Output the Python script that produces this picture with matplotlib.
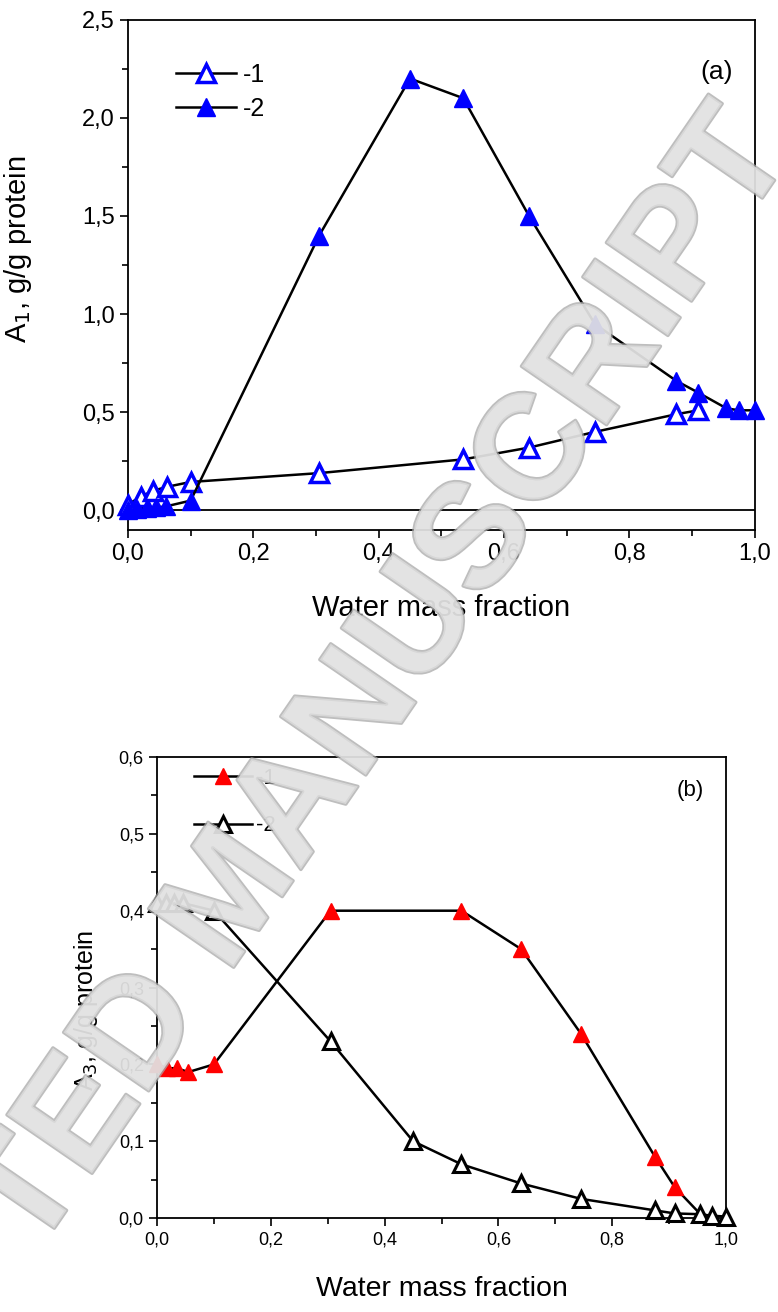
import numpy as np
import matplotlib.pyplot as plt
import matplotlib.patheffects as pe

plt.rcParams['font.family'] = ['Liberation Sans', 'DejaVu Sans']

# panel (a): A1 vs water mass fraction
xa1 = [0.0, 0.02, 0.04, 0.062, 0.10, 0.305, 0.535, 0.64, 0.745, 0.875, 0.91]
ya1 = [0.03, 0.07, 0.10, 0.12, 0.145, 0.19, 0.26, 0.32, 0.40, 0.49, 0.51]
xa2 = [0.0, 0.015, 0.03, 0.045, 0.06, 0.10, 0.305, 0.45, 0.535, 0.64, 0.745, 0.875, 0.91, 0.955, 0.975, 1.0]
ya2 = [0.0, 0.005, 0.01, 0.015, 0.02, 0.05, 1.40, 2.20, 2.10, 1.50, 0.95, 0.66, 0.60, 0.52, 0.51, 0.51]

# panel (b): A3 vs water mass fraction
xb1 = [0.0, 0.018, 0.035, 0.055, 0.10, 0.305, 0.535, 0.64, 0.745, 0.875, 0.91, 0.955]
yb1 = [0.20, 0.195, 0.195, 0.19, 0.20, 0.40, 0.40, 0.35, 0.24, 0.08, 0.04, 0.005]
xb2 = [0.0, 0.015, 0.03, 0.045, 0.10, 0.305, 0.45, 0.535, 0.64, 0.745, 0.875, 0.91, 0.955, 0.975, 1.0]
yb2 = [0.41, 0.41, 0.41, 0.41, 0.40, 0.23, 0.10, 0.07, 0.045, 0.025, 0.01, 0.006, 0.005, 0.003, 0.002]

xticks = [0.0, 0.2, 0.4, 0.6, 0.8, 1.0]
xtick_labels = ['0,0', '0,2', '0,4', '0,6', '0,8', '1,0']
ya_ticks = [0.0, 0.5, 1.0, 1.5, 2.0, 2.5]
ya_labels = ['0,0', '0,5', '1,0', '1,5', '2,0', '2,5']
yb_ticks = [0.0, 0.1, 0.2, 0.3, 0.4, 0.5, 0.6]
yb_labels = ['0,0', '0,1', '0,2', '0,3', '0,4', '0,5', '0,6']

fig = plt.figure(figsize=(7.78, 13.12), dpi=100)

def style(ax, fs):
    ax.tick_params(which='both', direction='out', top=False, right=False, width=1.2)
    ax.tick_params(which='major', length=6, labelsize=fs)
    ax.tick_params(which='minor', length=4)
    for s in ax.spines.values():
        s.set_linewidth(1.3)

# ---- (a)
ax1 = fig.add_axes([0.1645, 0.596, 0.8055, 0.389])
ax1.axhline(0, color='k', lw=1.3)
ax1.plot(xa1, ya1, color='k', lw=1.8, marker='^', ms=13, mfc='white', mec='#0000ff',
         mew=2.5, clip_on=False, label='-1', zorder=3)
ax1.plot(xa2, ya2, color='k', lw=1.8, marker='^', ms=13, mfc='#0000ff', mec='#0000ff',
         clip_on=False, label='-2', zorder=4)
ax1.set_xlim(0, 1)
ax1.set_ylim(-0.1, 2.5)
ax1.set_xticks(xticks)
ax1.set_xticklabels(xtick_labels)
ax1.set_xticks(np.arange(0.1, 1.0, 0.2), minor=True)
ax1.set_yticks(ya_ticks)
ax1.set_yticklabels(ya_labels)
ax1.set_yticks([0.25, 0.75, 1.25, 1.75, 2.25], minor=True)
style(ax1, 17)
ax1.set_xlabel('Water mass fraction', fontsize=21)
ax1.xaxis.set_label_coords(0.5, -0.125)
ax1.set_ylabel('A$_1$, g/g protein', fontsize=21)
ax1.yaxis.set_label_coords(-0.15, 0.55)
ax1.text(0.94, 0.898, '(a)', transform=ax1.transAxes, fontsize=19, ha='center', va='center',
         zorder=20)
ax1.legend(loc='upper left', bbox_to_anchor=(0.04, 0.96), frameon=False, fontsize=18,
           handlelength=2.4, handletextpad=0.3, labelspacing=0.4)

# ---- (b)
ax2 = fig.add_axes([0.2018, 0.0716, 0.7314, 0.3514])
ax2.plot(xb1, yb1, color='k', lw=1.8, marker='^', ms=12, mfc='#ff0000', mec='#ff0000',
         clip_on=False, label='-1', zorder=3)
ax2.plot(xb2, yb2, color='k', lw=1.8, marker='^', ms=12, mfc='white', mec='k',
         mew=2.2, clip_on=False, label='-2', zorder=4)
ax2.set_xlim(0, 1)
ax2.set_ylim(0, 0.6)
ax2.set_xticks(xticks)
ax2.set_xticklabels(xtick_labels)
ax2.set_xticks(np.arange(0.1, 1.0, 0.2), minor=True)
ax2.set_yticks(yb_ticks)
ax2.set_yticklabels(yb_labels)
ax2.set_yticks(np.arange(0.05, 0.6, 0.1), minor=True)
style(ax2, 13)
ax2.set_xlabel('Water mass fraction', fontsize=20.5)
ax2.xaxis.set_label_coords(0.5, -0.125)
ax2.set_ylabel('A$_3$, g/g protein', fontsize=18)
ax2.yaxis.set_label_coords(-0.1, 0.45)
ax2.text(0.937, 0.928, '(b)', transform=ax2.transAxes, fontsize=16, ha='center', va='center')
ax2.legend(loc='upper left', bbox_to_anchor=(0.03, 1.02), frameon=False, fontsize=16,
           handlelength=2.6, handletextpad=0.2, labelspacing=1.2)

# watermark
fig.text(0.30, 0.315, 'ACCEPTED MANUSCRIPT', fontsize=108, rotation=55.5, color='#e2e2e2',
         fontweight='bold', ha='center', va='center', alpha=0.75, zorder=10,
         path_effects=[pe.withStroke(linewidth=2.5, foreground='#a8a8a8')])

fig.savefig('out.png', dpi=100)
